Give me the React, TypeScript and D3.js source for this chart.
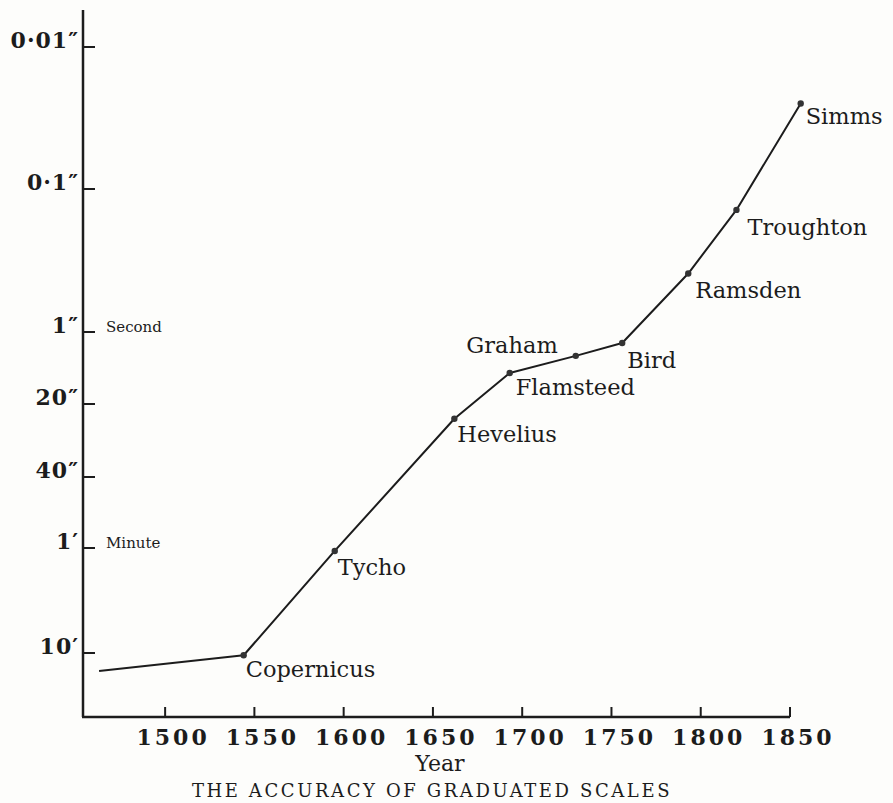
import React, { useEffect, useRef } from "react";
import * as d3 from "d3";

// year of each instrument and its accuracy in seconds of arc
const years = [1463, 1544, 1595, 1662, 1693, 1730, 1756, 1793, 1820, 1856];
const accuracy = [890, 630, 64, 23, 5.5, 2.7, 1.58, 0.39, 0.14, 0.025];
const makers = ["", "Copernicus", "Tycho", "Hevelius", "Flamsteed", "Graham", "Bird", "Ramsden", "Troughton", "Simms"];

const xTicks = [1500, 1550, 1600, 1650, 1700, 1750, 1800, 1850];
const yTickValues = [0.01, 0.1, 1, 20, 40, 60, 600];
const yTickLabels = ["0·01″", "0·1″", "1″", "20″", "40″", "1′", "10′"];
const yTickNotes = ["", "", "Second", "", "", "Minute", ""];

// layout: the printed axis is not evenly logarithmic, so each tick gets its own stop
const yStops = [47, 189, 332, 404, 477, 548, 653];
const labelOffsets = [[0, 0], [2, 22], [3, 24], [3, 23], [6, 22], [-18, -3], [5, 25], [7, 24], [11, 25], [5, 20]];

const W = 893;
const H = 803;
const ink = "#1c1c1c";
const serif = "'DejaVu Serif', serif";

export default function App() {
    const svgRef = useRef<SVGSVGElement | null>(null);

    useEffect(() => {
        document.body.style.margin = "0";
        if (!svgRef.current) return;
        const svg = d3.select(svgRef.current);
        svg.selectAll("*").remove();

        const left = 83;
        const bottom = 717;

        const x = d3.scaleLinear().domain([1454, 1850]).range([left, 790]);
        const yLog = d3.scaleLinear().domain(yTickValues.map(Math.log10)).range(yStops);
        const y = (v: number) => yLog(Math.log10(v));

        // axes
        svg.append("line")
            .attr("x1", left).attr("x2", left)
            .attr("y1", 10).attr("y2", bottom)
            .attr("stroke", ink).attr("stroke-width", 2.5);
        svg.append("line")
            .attr("x1", left - 1).attr("x2", x(1850))
            .attr("y1", bottom).attr("y2", bottom)
            .attr("stroke", ink).attr("stroke-width", 2.5);

        // x ticks point up into the plot
        svg.selectAll(".xtick")
            .data(xTicks)
            .join("line")
            .attr("class", "xtick")
            .attr("x1", d => x(d)).attr("x2", d => x(d))
            .attr("y1", bottom).attr("y2", bottom - 10)
            .attr("stroke", ink).attr("stroke-width", 2);

        svg.selectAll(".xlabel")
            .data(xTicks)
            .join("text")
            .attr("class", "xlabel")
            .attr("x", d => x(d) + 8)
            .attr("y", bottom + 28)
            .attr("text-anchor", "middle")
            .attr("font-family", serif)
            .attr("font-weight", "bold")
            .attr("font-size", 22)
            .attr("letter-spacing", 3)
            .attr("fill", ink)
            .text(d => String(d));

        // y ticks point right
        svg.selectAll(".ytick")
            .data(yTickValues)
            .join("line")
            .attr("class", "ytick")
            .attr("x1", left).attr("x2", left + 12)
            .attr("y1", d => y(d)).attr("y2", d => y(d))
            .attr("stroke", ink).attr("stroke-width", 2);

        svg.selectAll(".ylabel")
            .data(yTickValues)
            .join("text")
            .attr("class", "ylabel")
            .attr("x", left - 4)
            .attr("y", d => y(d) + 1)
            .attr("text-anchor", "end")
            .attr("font-family", serif)
            .attr("font-weight", "bold")
            .attr("font-size", 22)
            .attr("letter-spacing", 1)
            .attr("fill", ink)
            .text((d, i) => yTickLabels[i]);

        svg.selectAll(".ynote")
            .data(yTickValues.filter((d, i) => yTickNotes[i]))
            .join("text")
            .attr("class", "ynote")
            .attr("x", left + 23)
            .attr("y", d => y(d))
            .attr("font-family", serif)
            .attr("font-size", 15)
            .attr("fill", ink)
            .text(d => yTickNotes[yTickValues.indexOf(d)]);

        // the curve
        const pts = years.map((yr, i) => ({ yr, v: accuracy[i], name: makers[i], i }));
        const line = d3.line<typeof pts[0]>()
            .x(d => x(d.yr))
            .y(d => y(d.v));

        svg.append("path")
            .datum(pts)
            .attr("d", line)
            .attr("fill", "none")
            .attr("stroke", ink)
            .attr("stroke-width", 2)
            .attr("stroke-linejoin", "round");

        const named = pts.filter(d => d.name);

        svg.selectAll(".dot")
            .data(named)
            .join("circle")
            .attr("class", "dot")
            .attr("cx", d => x(d.yr))
            .attr("cy", d => y(d.v))
            .attr("r", 3.2)
            .attr("fill", "#333");

        svg.selectAll(".name")
            .data(named)
            .join("text")
            .attr("class", "name")
            .attr("x", d => x(d.yr) + labelOffsets[d.i][0])
            .attr("y", d => y(d.v) + labelOffsets[d.i][1])
            .attr("text-anchor", d => (labelOffsets[d.i][0] < 0 ? "end" : "start"))
            .attr("font-family", serif)
            .attr("font-size", 22.5)
            .attr("fill", ink)
            .text(d => d.name);

        // titles
        svg.append("text")
            .attr("x", 440)
            .attr("y", 771)
            .attr("text-anchor", "middle")
            .attr("font-family", serif)
            .attr("font-size", 22)
            .attr("fill", ink)
            .text("Year");

        svg.append("text")
            .attr("x", 432)
            .attr("y", 797)
            .attr("text-anchor", "middle")
            .attr("font-family", serif)
            .attr("font-size", 18)
            .attr("letter-spacing", 2.6)
            .attr("fill", ink)
            .text("THE ACCURACY OF GRADUATED SCALES");
    }, []);

    return (
        <svg
            ref={svgRef}
            width={W}
            height={H}
            style={{ display: "block", background: "#fdfdfb" }}
        />
    );
}
